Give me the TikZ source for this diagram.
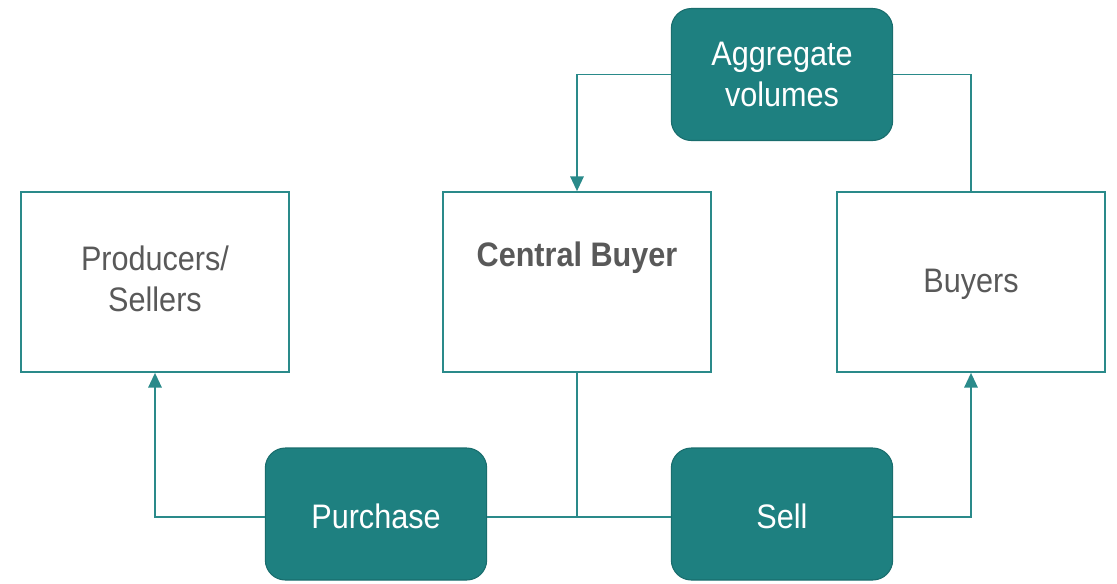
\documentclass[tikz,border=0pt]{standalone}
\usepackage{fontspec}
\setmainfont{Liberation Sans}[FakeStretch=0.9]
\usetikzlibrary{arrows.meta}
\definecolor{teal1}{HTML}{1E8080}
\definecolor{tealline}{HTML}{2A8A8A}
\definecolor{txtgray}{HTML}{595959}
\begin{document}
\begin{tikzpicture}[x=0.75pt,y=-0.75pt,
  plainbox/.style={draw=tealline,line width=1.3pt,fill=white,minimum width=201pt,minimum height=135pt,inner sep=0pt},
  tealbox/.style={draw=teal1!85!black,line width=0.8pt,fill=teal1,rounded corners=15pt,minimum width=166pt,minimum height=99pt,align=center,text=white,font=\fontsize{25.5}{31}\selectfont,inner sep=0pt},
  graylabel/.style={text=txtgray,font=\fontsize{25.5}{31}\selectfont,align=center},
  whitelabel/.style={text=white,font=\fontsize{25.5}{31}\selectfont,align=center},
  conn/.style={draw=tealline,line width=1.3pt},
  arr/.style={conn,-{Triangle[length=11pt,width=10pt]}}]
\useasboundingbox (0,0) rectangle (1117,583);
\node[plainbox] (prod) at (155,282) {};
\node[graylabel] (prodtxt) at (155,279) {Producers/\\Sellers};
\node[plainbox] (cb) at (577,282) {};
\node[graylabel,font=\fontsize{25.5}{31}\selectfont\bfseries] (cbtxt) at (577,258) {Central Buyer};
\node[plainbox] (buy) at (971,282) {};
\node[graylabel] (buytxt) at (971,284) {Buyers};
\node[tealbox] (agg) at (782,74.5) {Aggregate\\volumes};
\node[tealbox] (pur) at (376,514) {};
\node[whitelabel] (purtxt) at (376,516) {Purchase};
\node[tealbox] (sell) at (782,514) {};
\node[whitelabel] (selltxt) at (782,516) {Sell};
\coordinate (j) at (577,517);
\draw[arr] (agg.west) -| (cb.north);
\draw[conn] (buy.north) |- (agg.east);
\draw[conn] (cb.south) -- (j);
\draw[conn] (pur.east |- j) -- (sell.west |- j);
\draw[arr] (pur.west |- j) -| (prod.south);
\draw[arr] (sell.east |- j) -| (buy.south);
\end{tikzpicture}
\end{document}
